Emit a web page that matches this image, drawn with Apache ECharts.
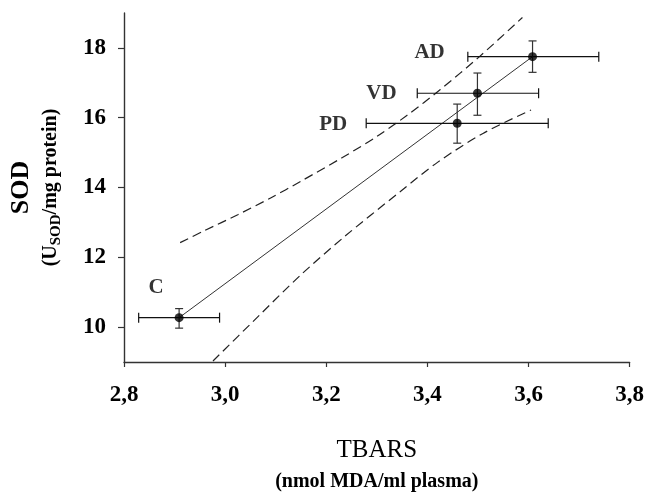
<!DOCTYPE html>
<html>
<head>
<meta charset="utf-8">
<script src="https://cdn.jsdelivr.net/npm/echarts@6/dist/echarts.min.js"></script>
<style>
html,body{margin:0;padding:0;background:#fff;}
#chart{width:647px;height:497px;}
</style>
</head>
<body>
<div id="chart"></div>
<script>
// ---- data ----
const groups    = ['C', 'PD', 'VD', 'AD'];
const tbars     = [2.909, 3.459, 3.499, 3.608];
const tbarsLow  = [2.829, 3.279, 3.380, 3.480];
const tbarsHigh = [2.989, 3.639, 3.620, 3.739];
const sod       = [10.27, 15.84, 16.70, 17.75];
const sodLow    = [9.97, 15.27, 16.07, 17.30];
const sodHigh   = [10.53, 16.39, 17.28, 18.20];

const fitX = [2.909, 3.608];
const fitY = [10.27, 17.75];

const upperX = [2.911, 2.960, 3.025, 3.090, 3.150, 3.232, 3.300, 3.360, 3.425, 3.503, 3.588];
const upperY = [12.42, 12.77, 13.22, 13.70, 14.18, 14.86, 15.46, 16.07, 16.80, 17.75, 18.87];
const lowerX = [2.976, 3.065, 3.150, 3.235, 3.346, 3.420, 3.510, 3.605];
const lowerY = [9.03, 10.30, 11.50, 12.58, 13.88, 14.72, 15.55, 16.22];

const xTickValues = [2.8, 3.0, 3.2, 3.4, 3.6, 3.8];
const xTickLabels = ['2,8', '3,0', '3,2', '3,4', '3,6', '3,8'];
const yTickValues = [10, 12, 14, 16, 18];
const yTickLabels = ['10', '12', '14', '16', '18'];

// ---- build ----
const SERIF = "'Times New Roman', 'Liberation Serif', serif";
const zip = (a, b) => a.map((v, i) => [v, b[i]]);

const labelOffsets = { C: [-23, -30], PD: [-124, 1], VD: [-96, 0], AD: [-103, -4] };

const pointData = groups.map((g, i) => ({
  value: [tbars[i], sod[i]],
  name: g,
  label: { offset: labelOffsets[g] }
}));

const errData = groups.map((g, i) => [tbars[i], sod[i], tbarsLow[i], tbarsHigh[i], sodLow[i], sodHigh[i]]);

function renderErr(params, api) {
  const x = api.value(0), y = api.value(1);
  const xl = api.value(2), xh = api.value(3), yl = api.value(4), yh = api.value(5);
  const pL = api.coord([xl, y]), pR = api.coord([xh, y]);
  const pB = api.coord([x, yl]), pT = api.coord([x, yh]);
  const hc = 5, vc = 4;
  const hStyle = { stroke: '#111', lineWidth: 1.2 };
  const vStyle = { stroke: '#333', lineWidth: 1.2 };
  const line = (x1, y1, x2, y2, st) => ({ type: 'line', shape: { x1, y1, x2, y2 }, style: st });
  return {
    type: 'group',
    children: [
      line(pL[0], pL[1], pR[0], pR[1], hStyle),
      line(pL[0], pL[1] - hc, pL[0], pL[1] + hc, hStyle),
      line(pR[0], pR[1] - hc, pR[0], pR[1] + hc, hStyle),
      line(pB[0], pB[1], pT[0], pT[1], vStyle),
      line(pB[0] - vc, pB[1], pB[0] + vc, pB[1], vStyle),
      line(pT[0] - vc, pT[1], pT[0] + vc, pT[1], vStyle)
    ]
  };
}

const chart = echarts.init(document.getElementById('chart'), null, { renderer: 'canvas' });
chart.setOption({
  animation: false,
  backgroundColor: '#fff',
  grid: { left: 122, right: 16, top: 13, bottom: 129, containLabel: false },
  xAxis: {
    type: 'value', min: 2.8, max: 3.8,
    splitLine: { show: false },
    axisLine: { show: true, onZero: false, lineStyle: { color: '#333', width: 1.4 } },
    axisTick: { show: true, length: 5, customValues: xTickValues, lineStyle: { color: '#333', width: 1.2 } },
    axisLabel: {
      customValues: xTickValues,
      formatter: v => xTickLabels[xTickValues.findIndex(t => Math.abs(t - v) < 1e-6)] || '',
      fontFamily: SERIF, fontWeight: 'bold', fontSize: 23, color: '#000', margin: 22
    },
    name: '{a|TBARS}\n{b|(nmol MDA/ml plasma)}',
    nameLocation: 'middle', nameGap: 73,
    nameTextStyle: {
      rich: {
        a: { fontFamily: SERIF, fontSize: 25, fontWeight: 'normal', color: '#000', lineHeight: 31, align: 'center' },
        b: { fontFamily: SERIF, fontSize: 20, fontWeight: 'bold', color: '#000', lineHeight: 32, align: 'center' }
      }
    }
  },
  yAxis: {
    type: 'value', min: 9, max: 19,
    splitLine: { show: false },
    axisLine: { show: true, onZero: false, lineStyle: { color: '#333', width: 1.4 } },
    axisTick: { show: true, length: 6, customValues: yTickValues, lineStyle: { color: '#333', width: 1.2 } },
    axisLabel: {
      customValues: yTickValues,
      formatter: v => yTickLabels[yTickValues.indexOf(Math.round(v))] || '',
      fontFamily: SERIF, fontWeight: 'bold', fontSize: 23, color: '#000', margin: 18
    },
    name: '{a|SOD}\n{b|(U}{s|SOD}{b|/mg protein)}',
    nameLocation: 'middle', nameGap: 60, nameRotate: 90,
    nameTextStyle: {
      rich: {
        a: { fontFamily: SERIF, fontSize: 26, fontWeight: 'bold', color: '#000', lineHeight: 34 },
        b: { fontFamily: SERIF, fontSize: 20, fontWeight: 'bold', color: '#000', lineHeight: 26, verticalAlign: 'middle' },
        s: { fontFamily: SERIF, fontSize: 15, fontWeight: 'bold', color: '#000', lineHeight: 14, verticalAlign: 'bottom' }
      }
    }
  },
  series: [
    {
      type: 'line', data: zip(fitX, fitY), showSymbol: false, silent: true,
      lineStyle: { color: '#333', width: 1 }, z: 2
    },
    {
      type: 'line', data: zip(upperX, upperY), showSymbol: false, smooth: 0.3, silent: true,
      lineStyle: { color: '#222', width: 1.2, type: [9, 5] }, z: 2
    },
    {
      type: 'line', data: zip(lowerX, lowerY), showSymbol: false, smooth: 0.3, silent: true,
      lineStyle: { color: '#222', width: 1.2, type: [9, 5] }, z: 2
    },
    {
      type: 'custom', data: errData, renderItem: renderErr, z: 3,
      encode: { x: [0, 2, 3], y: [1, 4, 5] }
    },
    {
      type: 'scatter', data: pointData, symbol: 'circle', symbolSize: 9, z: 4,
      itemStyle: { color: '#000' },
      label: {
        show: true, position: 'inside', formatter: p => p.name,
        fontFamily: SERIF, fontWeight: 'bold', fontSize: 21, color: '#000'
      }
    }
  ]
});
</script>
</body>
</html>
